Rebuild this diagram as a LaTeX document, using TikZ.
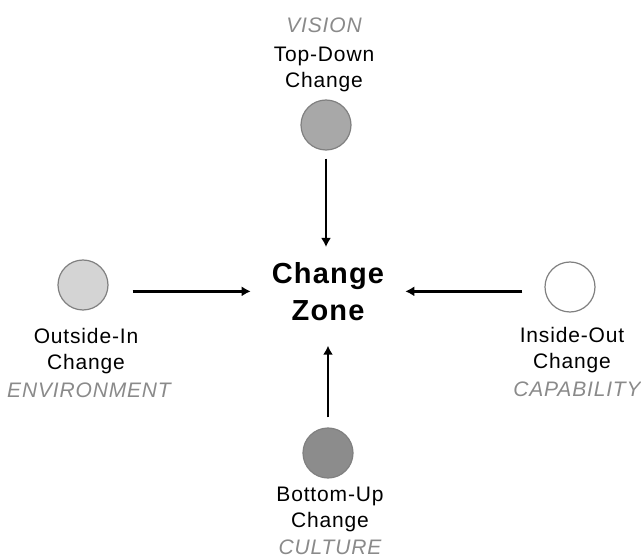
\documentclass[tikz,border=0pt]{standalone}
\usepackage{fontspec}
\setmainfont[LetterSpace=4]{Liberation Sans}
\usetikzlibrary{arrows.meta}
\definecolor{rimgray}{HTML}{808080}
\definecolor{catgray}{HTML}{8A8A8A}
\tikzset{
  force/.style={circle,draw=rimgray,line width=1.2pt,minimum size=50pt,inner sep=0pt},
  lbl/.style={align=center,inner sep=0pt,anchor=north,font=\fontsize{21}{26}\selectfont},
  cat/.style={inner sep=0pt,anchor=base,text=catgray,font=\fontsize{21}{26}\selectfont\itshape},
  conn/.style={->,>={Latex[length=9pt,width=10pt]},line width=2.8pt}
}
\begin{document}
\begin{tikzpicture}[x=1pt,y=-1pt]
    \useasboundingbox (0,0) rectangle (641,559);
    \node[align=center,inner xsep=21pt,inner ysep=15pt,anchor=north,font=\fontsize{29}{37}\selectfont\bfseries] (zone) at (328,247) {Change\\Zone};
    \node[force,fill=black!34] (top) at (326,125) {};
    \node[force,fill=black!17] (left) at (83,285) {};
    \node[force,fill=white] (right) at (570,287) {};
    \node[force,fill=black!45] (bottom) at (328,453) {};
    \node[cat] (topcat) at (324,33) {VISION};
    \node[lbl] (toplbl) at (324,47) {Top-Down\\Change};
    \node[lbl] (leftlbl) at (86,328) {Outside-In\\Change};
    \node[cat] (leftcat) at (89,397) {ENVIRONMENT};
    \node[lbl] (rightlbl) at (572,327) {Inside-Out\\Change};
    \node[cat] (rightcat) at (577,396) {CAPABILITY};
    \node[lbl] (bottomlbl) at (330,487) {Bottom-Up\\Change};
    \node[cat] (bottomcat) at (330,554) {CULTURE};
    \draw[conn,shorten <=8pt] (top) -- (top |- zone.north);
    \draw[conn,shorten <=24pt] (left.east |- zone.west) -- (zone.west);
    \draw[conn,shorten <=22pt] (right.west |- zone.east) -- (zone.east);
    \draw[conn,shorten <=10pt,shorten >=10pt] (bottom) -- (zone);
\end{tikzpicture}
\end{document}
